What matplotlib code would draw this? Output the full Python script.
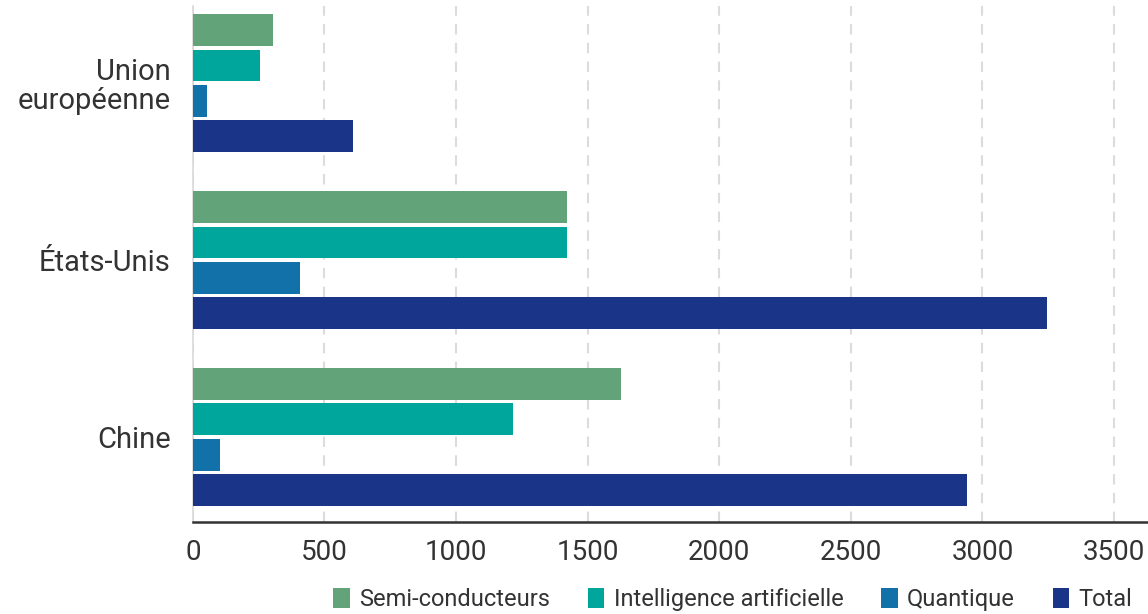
import matplotlib
matplotlib.use("Agg")
import matplotlib.pyplot as plt
from matplotlib.patches import Patch
import numpy as np

plt.rcParams['font.family'] = ['Roboto', 'DejaVu Sans']

categories = ["Union\neuropéenne", "États-Unis", "Chine"]
series_names = ["Semi-conducteurs", "Intelligence artificielle", "Quantique", "Total"]
semi = [305, 1420, 1625]
ia = [255, 1420, 1218]
quantique = [53, 407, 103]
total = [608, 3245, 2943]
xticks = [0, 500, 1000, 1500, 2000, 2500, 3000, 3500]
xtick_labels = ["0", "500", "1000", "1500", "2000", "2500", "3000", "3500"]

colors = ["#62A37A", "#00A69C", "#1271A8", "#1A3487"]
text_color = "#333333"

fig = plt.figure(figsize=(11.48, 6.14), dpi=100)
ax = fig.add_axes([0.168, 0.15, 0.832, 0.84])

values = [semi, ia, quantique, total]
for b, (vals, col) in enumerate(zip(values, colors)):
    pos = [g * 5 + b for g in range(len(categories))]
    ax.barh(pos, vals, height=0.9, color=col, zorder=3)

ax.set_ylim(13.9, -0.68)
ax.set_xlim(0, 3629)
ax.set_yticks([g * 5 + 1.5 for g in range(len(categories))])
ax.set_yticklabels(categories, fontsize=21, color=text_color, multialignment="right",
                   linespacing=1.05)
ax.set_xticks(xticks)
ax.set_xticklabels(xtick_labels, fontsize=20, color=text_color)
ax.tick_params(axis="y", length=0, pad=16)
ax.tick_params(axis="x", length=0, pad=12)

ax.grid(axis="x", color="#dcdcdc", linewidth=1.5, linestyle=(0, (5, 4)), zorder=0)
ax.set_axisbelow(True)
for s in ["top", "right"]:
    ax.spines[s].set_visible(False)
ax.spines["left"].set_color("#d9d9d9")
ax.spines["left"].set_linewidth(1.2)
ax.spines["bottom"].set_color("#333333")
ax.spines["bottom"].set_linewidth(1.8)
ax.spines["bottom"].set_zorder(5)

handles = [Patch(facecolor=c, edgecolor="none") for c in colors]
fig.legend(handles, series_names, loc="lower right", bbox_to_anchor=(1.005, -0.03),
           ncol=4, frameon=False, fontsize=17, labelcolor=text_color,
           handlelength=0.7, handleheight=0.9, handletextpad=0.4, columnspacing=1.6)

fig.savefig("out.png", dpi=100)
